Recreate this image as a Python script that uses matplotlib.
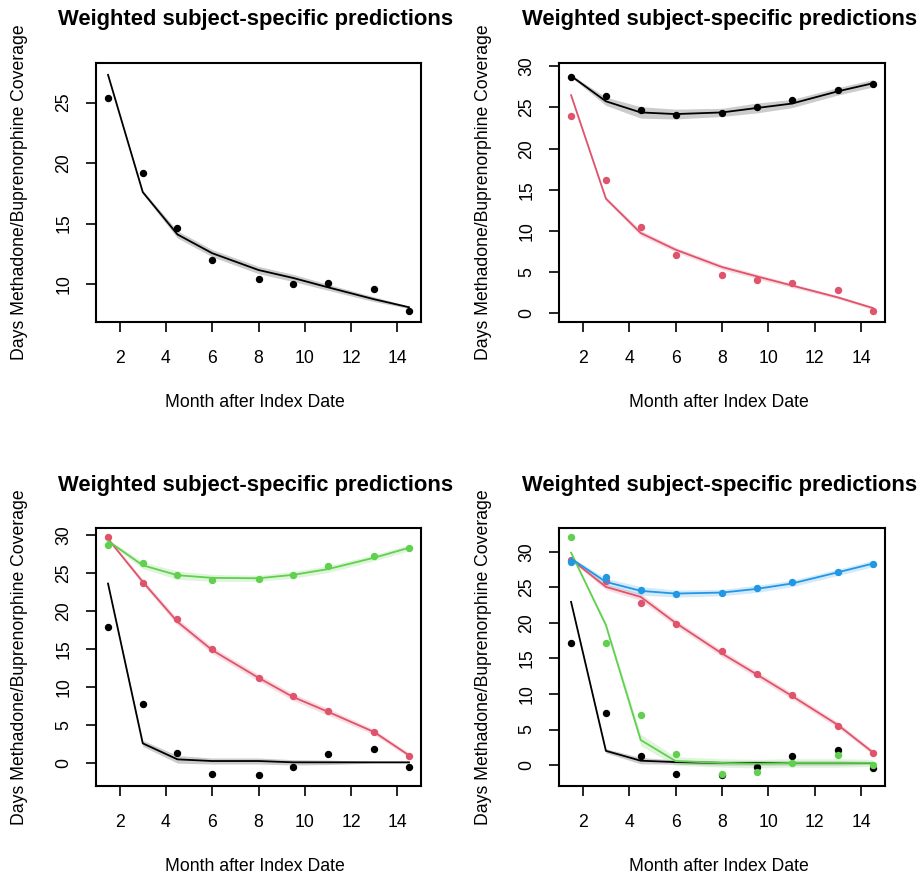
import matplotlib.pyplot as plt
import numpy as np

plt.rcParams['font.family'] = ['Liberation Sans', 'DejaVu Sans']

# months after index date (same for every group)
months = [1.5, 3, 4.5, 6, 8, 9.5, 11, 13, 14.5]

# R default palette colours
c_black = "#000000"
c_red = "#DF536B"
c_green = "#61D04F"
c_blue = "#2297E6"

# panel 1: one group
p1_obs = [25.4, 19.16, 14.66, 12.0, 10.4, 10.03, 10.05, 9.57, 7.75]
p1_fit = [27.3, 17.6, 14.1, 12.55, 11.16, 10.5, 9.73, 8.74, 8.08]
p1_se = [0.05, 0.15, 0.3, 0.3, 0.3, 0.3, 0.25, 0.2, 0.1]

# panel 2: two groups
p2_obs_k = [28.67, 26.36, 24.7, 24.13, 24.34, 25.0, 25.9, 27.1, 27.9]
p2_fit_k = [28.83, 25.75, 24.4, 24.2, 24.4, 24.94, 25.47, 26.97, 27.94]
p2_se_k = [0.15, 0.5, 0.7, 0.6, 0.5, 0.6, 0.5, 0.45, 0.45]
p2_obs_r = [24.0, 16.2, 10.45, 7.05, 4.66, 4.0, 3.64, 2.8, 0.25]
p2_fit_r = [26.5, 13.93, 9.76, 7.74, 5.63, 4.5, 3.4, 1.94, 0.65]
p2_se_r = [0.1, 0.25, 0.35, 0.3, 0.3, 0.3, 0.25, 0.2, 0.2]

# panel 3: three groups
p3_obs_k = [17.84, 7.74, 1.31, -1.4, -1.57, -0.49, 1.18, 1.88, -0.52]
p3_fit_k = [23.6, 2.62, 0.52, 0.3, 0.3, 0.13, 0.13, 0.13, 0.13]
p3_se_k = [0.1, 0.4, 0.5, 0.4, 0.4, 0.35, 0.3, 0.1, 0.1]
p3_obs_r = [29.73, 23.7, 18.9, 15.04, 11.23, 8.83, 6.86, 4.1, 0.96]
p3_fit_r = [29.47, 23.83, 18.58, 14.86, 11.23, 8.7, 6.77, 4.1, 1.05]
p3_se_r = [0.2, 0.35, 0.45, 0.45, 0.45, 0.45, 0.45, 0.35, 0.3]
p3_obs_g = [28.64, 26.24, 24.75, 24.05, 24.22, 24.75, 25.88, 27.16, 28.29]
p3_fit_g = [29.2, 26.0, 24.7, 24.35, 24.3, 24.75, 25.5, 27.0, 28.3]
p3_se_g = [0.2, 0.45, 0.55, 0.45, 0.4, 0.45, 0.45, 0.4, 0.4]

# panel 4: four groups
p4_obs_k = [17.2, 7.36, 1.31, -1.27, -1.45, -0.24, 1.31, 2.1, -0.47]
p4_fit_k = [22.97, 2.0, 0.61, 0.42, 0.3, 0.3, 0.3, 0.3, 0.3]
p4_se_k = [0.1, 0.3, 0.45, 0.3, 0.3, 0.3, 0.3, 0.3, 0.2]
p4_obs_r = [28.83, 25.87, 22.88, 19.92, 15.99, 12.84, 9.89, 5.48, 1.64]
p4_fit_r = [28.97, 25.08, 23.67, 20.02, 15.7, 12.75, 9.75, 5.62, 1.78]
p4_se_r = [0.2, 0.4, 0.5, 0.45, 0.45, 0.45, 0.45, 0.4, 0.35]
p4_obs_g = [32.1, 17.2, 6.98, 1.5, -1.31, -0.94, 0.3, 1.45, -0.05]
p4_fit_g = [29.9, 19.7, 3.52, 0.56, 0.3, 0.2, 0.3, 0.3, 0.3]
p4_se_g = [0.1, 0.4, 0.8, 0.6, 0.6, 0.6, 0.6, 0.6, 0.5]
p4_obs_b = [28.59, 26.44, 24.6, 24.05, 24.28, 24.89, 25.83, 27.19, 28.36]
p4_fit_b = [29.06, 25.78, 24.52, 24.14, 24.28, 24.8, 25.55, 27.14, 28.36]
p4_se_b = [0.2, 0.5, 0.6, 0.5, 0.45, 0.5, 0.45, 0.45, 0.45]

panels = [
    dict(series=[(p1_obs, p1_fit, p1_se, c_black)],
         ylim=(6.86, 28.28), yticks=[10, 15, 20, 25]),
    dict(series=[(p2_obs_k, p2_fit_k, p2_se_k, c_black),
                 (p2_obs_r, p2_fit_r, p2_se_r, c_red)],
         ylim=(-1.04, 30.4), yticks=[0, 5, 10, 15, 20, 25, 30]),
    dict(series=[(p3_obs_k, p3_fit_k, p3_se_k, c_black),
                 (p3_obs_r, p3_fit_r, p3_se_r, c_red),
                 (p3_obs_g, p3_fit_g, p3_se_g, c_green)],
         ylim=(-2.98, 30.9), yticks=[0, 5, 10, 15, 20, 25, 30]),
    dict(series=[(p4_obs_k, p4_fit_k, p4_se_k, c_black),
                 (p4_obs_r, p4_fit_r, p4_se_r, c_red),
                 (p4_obs_g, p4_fit_g, p4_se_g, c_green),
                 (p4_obs_b, p4_fit_b, p4_se_b, c_blue)],
         ylim=(-2.95, 33.37), yticks=[0, 5, 10, 15, 20, 25, 30]),
]

W, H = 924, 880
# axes boxes in pixels: left, top, right, bottom
boxes = [(96, 63, 421, 322), (559, 63, 885, 322),
         (96, 528, 421, 786), (559, 528, 885, 786)]

fs = 12.7  # axis and tick text size

fig = plt.figure(figsize=(W / 100, H / 100), dpi=100)

for pan, (l, t, r, b) in zip(panels, boxes):
    ax = fig.add_axes([l / W, 1 - b / H, (r - l) / W, (b - t) / H])
    x = np.array(months)
    for obs, fit, se, col in pan["series"]:
        fit = np.array(fit)
        se = np.array(se)
        ax.fill_between(x, fit - se, fit + se, color=col, alpha=0.2, lw=0)
        ax.plot(x, fit, color=col, lw=1.3)
        ax.plot(x, obs, "o", color=col, ms=4.3, mec=col)

    ax.set_xlim(0.98, 15.02)
    ax.set_ylim(*pan["ylim"])
    ax.set_xticks([2, 4, 6, 8, 10, 12, 14])
    ax.set_yticks(pan["yticks"])
    for lab in ax.get_yticklabels():
        lab.set_rotation(90)
        lab.set_va("center")
    ax.tick_params(direction="out", length=7, width=1.2, labelsize=fs,
                   colors="black")
    ax.tick_params(axis="x", pad=13)
    ax.tick_params(axis="y", pad=10)
    for sp in ax.spines.values():
        sp.set_linewidth(1.5)

    ax.set_xlabel("Month after Index Date", fontsize=fs)
    ax.xaxis.set_label_coords(0.49, -80 / (b - t))
    ax.xaxis.label.set_va("center")
    ax.set_ylabel("Days Methadone/Buprenorphine Coverage", fontsize=fs)
    ax.yaxis.set_label_coords(-76 / (r - l), 0.5)
    ax.yaxis.label.set_va("center")

    fig.text((l + r) / 2 / W - 0.003, 1 - (t - 43) / H,
             "Weighted subject-specific predictions",
             fontsize=15.8, fontweight="bold", ha="center", va="center")

fig.savefig("out.png", dpi=100)
